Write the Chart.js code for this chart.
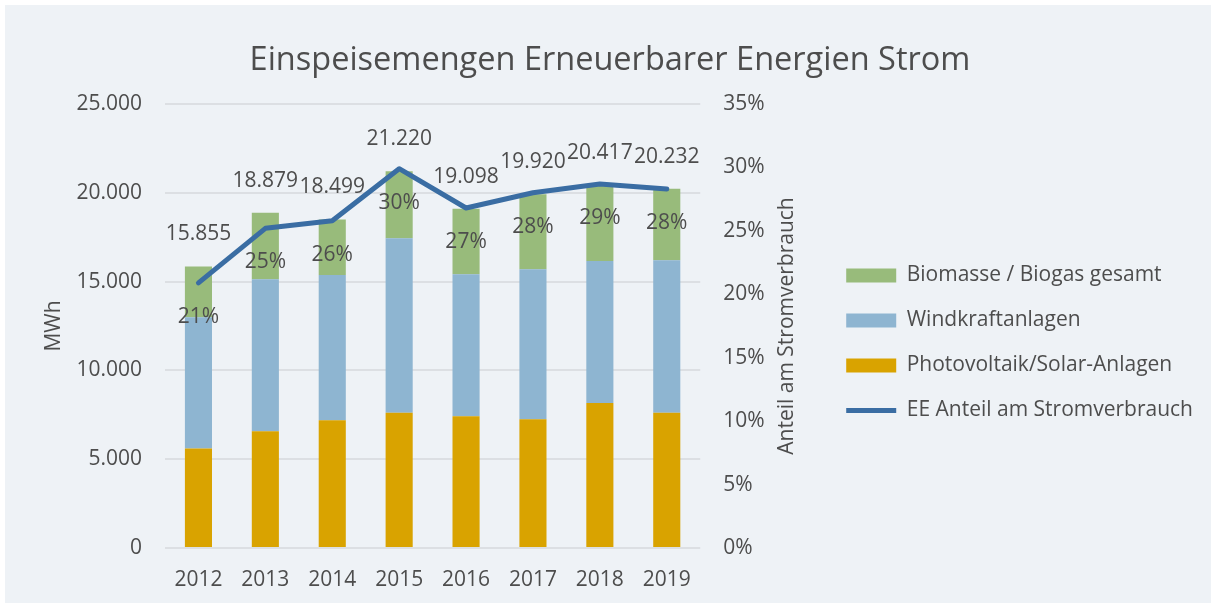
<!DOCTYPE html>
<html>
<head>
<meta charset="utf-8">
<script src="https://cdn.jsdelivr.net/npm/chart.js@4/dist/chart.umd.min.js"></script>
<style>
html,body{margin:0;padding:0;background:#ffffff;}
#wrap{width:1211px;height:603px;}
</style>
</head>
<body>
<div id="wrap"><canvas id="c" width="1211" height="603"></canvas></div>
<script>
// ---- data ----
const years = ['2012', '2013', '2014', '2015', '2016', '2017', '2018', '2019'];
const photovoltaik = [5600, 6580, 7200, 7610, 7420, 7255, 8170, 7610];
const windkraft = [7390, 8550, 8170, 9830, 7990, 8440, 7990, 8590];
const biomasse = [2865, 3749, 3129, 3780, 3688, 4225, 4257, 4032];
const eeAnteil = [20.9, 25.2, 25.8, 29.9, 26.8, 28.0, 28.7, 28.3];
const seriesNames = ['Photovoltaik/Solar-Anlagen', 'Windkraftanlagen', 'Biomasse / Biogas gesamt', 'EE Anteil am Stromverbrauch'];
const chartTitle = 'Einspeisemengen Erneuerbarer Energien Strom';
const leftAxisTitle = 'MWh';
const rightAxisTitle = 'Anteil am Stromverbrauch';
const leftAxisMax = 25000, leftAxisStep = 5000;
const rightAxisMax = 35, rightAxisStep = 5;

const TEXT = '#4d4d4d';
const FONT = '"Open Sans", "Noto Sans", sans-serif';
const FS = 21;
Chart.defaults.font.family = FONT;
Chart.defaults.color = TEXT;

function fmtDe(v) {
  return String(Math.round(v)).replace(/\B(?=(\d{3})+(?!\d))/g, '.');
}

const bgPlugin = {
  id: 'bg',
  beforeDraw(chart) {
    const ctx = chart.ctx;
    ctx.save();
    ctx.fillStyle = '#ffffff';
    ctx.fillRect(0, 0, chart.width, chart.height);
    ctx.fillStyle = '#EEF2F6';
    ctx.fillRect(5, 5, chart.width - 5, chart.height - 5);
    // chart title
    ctx.font = '32.5px ' + FONT;
    ctx.fillStyle = TEXT;
    ctx.textAlign = 'center';
    ctx.textBaseline = 'alphabetic';
    ctx.fillText(chartTitle, 610, 70);
    ctx.restore();
  }
};

const legendShiftPlugin = {
  id: 'legendShift',
  afterLayout(chart) {
    const lg = chart.legend;
    if (!lg) return;
    const pad = 24, colH = 4 * (FS + pad);
    const y0 = (lg.top + pad + lg.bottom - colH) / 2;
    const delta = 265 - y0;
    lg.top += delta;
    lg.bottom += delta;
  }
};

const labelPlugin = {
  id: 'labels',
  afterDatasetsDraw(chart) {
    const ctx = chart.ctx;
    const xs = chart.scales.x, ys = chart.scales.y, y2 = chart.scales.y2;
    ctx.save();
    ctx.font = FS + 'px ' + FONT;
    ctx.fillStyle = TEXT;
    ctx.textAlign = 'center';
    ctx.textBaseline = 'middle';
    years.forEach((yr, i) => {
      const total = photovoltaik[i] + windkraft[i] + biomasse[i];
      const x = xs.getPixelForValue(i);
      ctx.fillText(fmtDe(total), x, ys.getPixelForValue(total) - 32);
      ctx.fillText(Math.round(eeAnteil[i]) + '%', x, y2.getPixelForValue(eeAnteil[i]) + 34);
    });
    // right axis title, reading bottom-to-top
    ctx.translate(y2.right - 35, (chart.chartArea.top + chart.chartArea.bottom) / 2);
    ctx.rotate(-Math.PI / 2);
    ctx.fillText(rightAxisTitle, 0, 0);
    ctx.restore();
  }
};

const legendRank = {2: 0, 1: 1, 0: 2, 3: 3};

new Chart(document.getElementById('c'), {
  type: 'bar',
  data: {
    labels: years,
    datasets: [
      {label: seriesNames[0], data: photovoltaik, backgroundColor: '#D9A300', borderWidth: 0, pointStyle: 'rect', yAxisID: 'y', order: 1,
       barPercentage: 0.405, categoryPercentage: 1},
      {label: seriesNames[1], data: windkraft, backgroundColor: '#8EB5D1', borderWidth: 0, pointStyle: 'rect', yAxisID: 'y', order: 1,
       barPercentage: 0.405, categoryPercentage: 1},
      {label: seriesNames[2], data: biomasse, backgroundColor: '#98BB7B', borderWidth: 0, pointStyle: 'rect', yAxisID: 'y', order: 1,
       barPercentage: 0.405, categoryPercentage: 1},
      {type: 'line', label: seriesNames[3], data: eeAnteil, borderColor: '#3A6DA3', backgroundColor: '#3A6DA3',
       borderWidth: 5, borderCapStyle: 'round', borderJoinStyle: 'round', pointRadius: 0, pointStyle: 'line',
       tension: 0, fill: false, yAxisID: 'y2', order: 0}
    ]
  },
  options: {
    responsive: false,
    animation: false,
    devicePixelRatio: 1,
    layout: {padding: {top: 104, left: 5, right: 8, bottom: 0}},
    plugins: {
      title: {display: false},
      legend: {
        position: 'right',
        align: 'center',
        maxWidth: 420,
        labels: {
          usePointStyle: true,
          pointStyleWidth: 50,
          boxHeight: 14,
          padding: 24,
          color: TEXT,
          font: {size: FS, family: FONT},
          sort: (a, b) => legendRank[a.datasetIndex] - legendRank[b.datasetIndex]
        }
      },
      tooltip: {enabled: false}
    },
    scales: {
      x: {
        stacked: true,
        grid: {display: false},
        border: {display: false},
        ticks: {color: TEXT, font: {size: FS}, padding: 11},
        afterFit(s) { s.height = 55; }
      },
      y: {
        stacked: true,
        position: 'left',
        min: 0, max: leftAxisMax,
        ticks: {stepSize: leftAxisStep, color: TEXT, font: {size: FS}, padding: 23, callback: v => fmtDe(v)},
        grid: {color: '#DCDFE3', lineWidth: 2, drawTicks: false},
        border: {display: false},
        title: {display: true, text: leftAxisTitle, color: TEXT, font: {size: FS}, padding: {top: 36, bottom: 0}},
        afterFit(s) { s.width = 160; }
      },
      y2: {
        position: 'right',
        min: 0, max: rightAxisMax,
        ticks: {stepSize: rightAxisStep, color: TEXT, font: {size: FS}, padding: 23, callback: v => v + '%'},
        grid: {display: false, drawTicks: false},
        border: {display: false},
        title: {display: false},
        afterFit(s) { s.width = 122; }
      }
    }
  },
  plugins: [bgPlugin, legendShiftPlugin, labelPlugin]
});
</script>
</body>
</html>
